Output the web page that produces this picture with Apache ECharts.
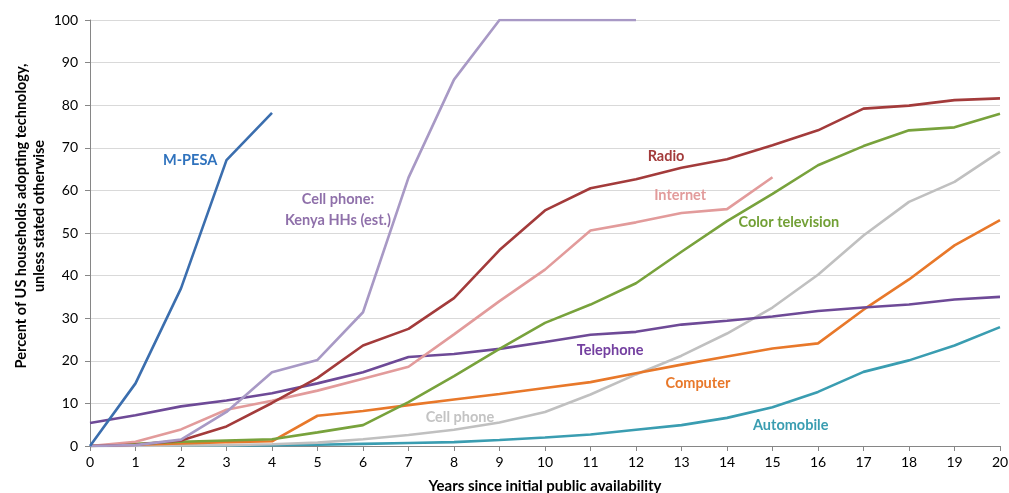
<!DOCTYPE html>
<html><head><meta charset="utf-8">
<script src="https://cdn.jsdelivr.net/npm/echarts@6/dist/echarts.min.js"></script>
<style>html,body{margin:0;padding:0;background:#fff}#c{width:1009px;height:493px}</style>
</head><body><div id="c"></div>
<script>
const years = [0,1,2,3,4,5,6,7,8,9,10,11,12,13,14,15,16,17,18,19,20];
const mpesa = [0,14.7,37,67.1,78.2];
const kenyaCell = [0,0.2,1.5,8,17.3,20.2,31.4,63,86,100,100,100,100];
const radio = [0,0.3,1.3,4.6,10.1,16,23.6,27.5,34.7,46,55.3,60.5,62.6,65.3,67.3,70.6,74.1,79.2,79.9,81.2,81.6];
const internet = [0,1,3.9,8.5,10.6,13,15.8,18.6,26.2,34,41.4,50.6,52.5,54.7,55.6,63.1];
const colorTV = [0,0.5,1,1.3,1.6,3.2,4.9,10.3,16.4,22.8,28.9,33.2,38.2,45.6,52.8,59.2,65.9,70.4,74.1,74.8,78];
const telephone = [5.4,7.2,9.3,10.7,12.4,14.7,17.3,20.9,21.6,22.8,24.4,26.1,26.8,28.5,29.4,30.4,31.7,32.5,33.2,34.4,35];
const computer = [0,0.3,0.6,0.9,1.1,7.1,8.2,9.6,10.9,12.2,13.6,15,17.1,19.1,21,22.9,24.1,32,39.1,47.1,53];
const cellUS = [0,0,0.1,0.2,0.4,0.8,1.6,2.6,3.8,5.5,8,12.1,16.8,21.2,26.4,32.5,40.2,49.4,57.3,62,69.1];
const automobile = [0,0.05,0.1,0.15,0.2,0.3,0.5,0.7,0.9,1.4,2,2.7,3.8,4.9,6.6,9.1,12.7,17.4,20.1,23.6,27.9];
const yTitle = 'Percent of US households adopting technology,\nunless stated otherwise';
const xTitle = 'Years since initial public availability';

const F = 'Lato, "Noto Sans", sans-serif';
function pairs(v){ return v.map((y,i)=>[years[i], y]); }
function mk(name, vals, color, labelColor, lx, ly, text){
  return {
    name, type:'line', data:pairs(vals), symbol:'none', smooth:false,
    lineStyle:{color, width:2.6}, itemStyle:{color}, z: 2,
    markPoint:{
      symbol:'circle', symbolSize:0, silent:true,
      data:[{coord:[lx,ly], value:text}],
      label:{show:true, position:'inside', formatter:text, color:labelColor,
        fontFamily:F, fontWeight:'bold', fontSize:14.5, lineHeight:21, align:'center'}
    }
  };
}
const chart = echarts.init(document.getElementById('c'));
chart.setOption({
  animation:false,
  grid:{left:90, right:9, top:20, bottom:47, containLabel:false, outerBoundsMode:'none'},
  graphic:[{
    type:'text', left:12, top:43, rotation:Math.PI/2,
    style:{text:yTitle, fontFamily:F, fontWeight:'bold', fontSize:14.5, lineHeight:18,
      fill:'#000', align:'center', verticalAlign:'middle', x:0, y:0},
    x:30, y:216, left:null, top:null
  }],
  xAxis:{type:'value', min:0, max:20, interval:1,
    name:xTitle, nameLocation:'middle', nameGap:33,
    nameTextStyle:{fontFamily:F, fontWeight:'bold', fontSize:15, color:'#000'},
    axisLine:{show:true, lineStyle:{color:'#868686'}},
    axisTick:{show:true, length:5, lineStyle:{color:'#868686'}},
    axisLabel:{fontFamily:F, fontSize:14, color:'#000', margin:9},
    splitLine:{show:false}},
  yAxis:{type:'value', min:0, max:100, interval:10,
    axisLine:{show:true, lineStyle:{color:'#868686'}},
    axisTick:{show:true, length:5, lineStyle:{color:'#868686'}},
    axisLabel:{fontFamily:F, fontSize:14, color:'#000', margin:12},
    splitLine:{show:true, lineStyle:{color:'#d9d9d9', width:1}}},
  series:[
    mk('Automobile', automobile, '#3a9db1', '#3a9db1', 15.4, 4.9, 'Automobile'),
    mk('Cell phone', cellUS, '#c0c0c0', '#c3c3c3', 8.13, 6.8, 'Cell phone'),
    mk('Computer', computer, '#e8782a', '#e8782a', 13.36, 14.6, 'Computer'),
    mk('Telephone', telephone, '#6e4a97', '#7440a0', 11.43, 22.5, 'Telephone'),
    mk('Color television', colorTV, '#78a23c', '#72a036', 15.36, 52.6, 'Color television'),
    mk('Internet', internet, '#e29b9b', '#e29b9b', 12.97, 58.9, 'Internet'),
    mk('Radio', radio, '#a33b3b', '#a33b3b', 12.66, 68.1, 'Radio'),
    mk('Kenya', kenyaCell, '#a899c5', '#8f70aa', 5.45, 55.4, 'Cell phone:\nKenya HHs (est.)'),
    mk('M-PESA', mpesa, '#3b6eae', '#2f72bd', 2.2, 67.1, 'M-PESA')
  ]
});
</script></body></html>
